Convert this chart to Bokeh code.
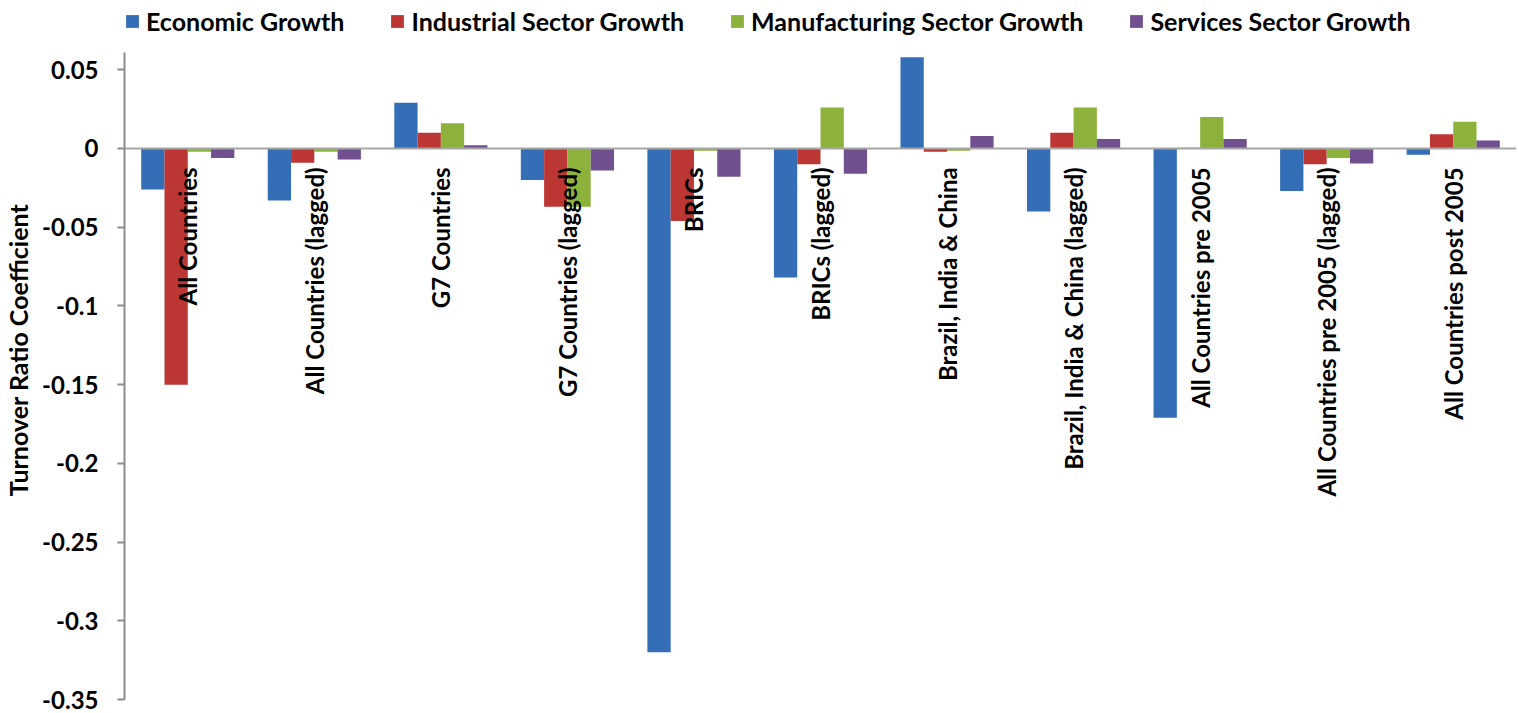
import math
from bokeh.plotting import figure
from bokeh.models import (ColumnDataSource, FactorRange, Range1d, Span, Legend, LegendItem,
                          FixedTicker, NumeralTickFormatter)
from bokeh.transform import dodge
from bokeh.core.properties import value
from bokeh.embed import file_html
from bokeh.resources import INLINE

categories = ["All Countries", "All Countries (lagged)", "G7 Countries", "G7 Countries (lagged)",
              "BRICs", "BRICs (lagged)", "Brazil, India & China", "Brazil, India & China (lagged)",
              "All Countries pre 2005", "All Countries pre 2005 (lagged)", "All Countries post 2005"]
economic = [-0.026, -0.033, 0.029, -0.020, -0.320, -0.082, 0.058, -0.040, -0.171, -0.027, -0.004]
industrial = [-0.150, -0.009, 0.010, -0.037, -0.046, -0.010, -0.002, 0.010, 0.0005, -0.010, 0.009]
manufacturing = [-0.002, -0.002, 0.016, -0.037, -0.0015, 0.026, -0.0015, 0.026, 0.020, -0.006, 0.017]
services = [-0.006, -0.007, 0.002, -0.014, -0.018, -0.016, 0.008, 0.006, 0.006, -0.0095, 0.005]
series_names = ["Economic Growth", "Industrial Sector Growth", "Manufacturing Sector Growth",
                "Services Sector Growth"]
y_ticks = [0.05, 0, -0.05, -0.1, -0.15, -0.2, -0.25, -0.3, -0.35]
y_title = "Turnover Ratio Coefficient"

colors = ["#346EB6", "#BC3634", "#8CB23C", "#71508F"]
FONT = "Lato"

src = ColumnDataSource(dict(cat=categories, econ=economic, ind=industrial,
                            man=manufacturing, srv=services))

# frame spans the full height; the axis line itself is bounded to the data area
p = figure(width=1518, height=713, x_range=FactorRange(*categories),
           y_range=Range1d(-0.35, 0.094), output_backend="svg", toolbar_location=None,
           min_border_left=124, min_border_right=2, min_border_top=0, min_border_bottom=14)

bw = 0.184
offsets = [-1.5 * bw, -0.5 * bw, 0.5 * bw, 1.5 * bw]
renderers = []
for col, off, c in zip(["econ", "ind", "man", "srv"], offsets, colors):
    r = p.vbar(x=dodge("cat", off, range=p.x_range), top=col, bottom=0, width=bw,
               source=src, fill_color=c, line_color=None)
    renderers.append(r)

p.add_layout(Span(location=0, dimension="width", line_color="#A6A6A6", line_width=2))

p.text(x="cat", y=-0.012, text="cat", source=src, angle=math.pi / 2,
       text_align="right", text_baseline="middle", text_font=value(FONT),
       text_font_style="bold", text_font_size="24px", text_color="black")

p.xaxis.visible = False
p.xgrid.visible = False
p.ygrid.visible = False
p.outline_line_color = None

ax = p.yaxis[0]
ax.bounds = (-0.35, 0.0608)
ax.ticker = FixedTicker(ticks=y_ticks)
ax.formatter = NumeralTickFormatter(format="0.[00]")
ax.axis_line_color = "#8C8C8C"
ax.axis_line_width = 2
ax.major_tick_line_color = "#8C8C8C"
ax.major_tick_line_width = 2
ax.major_tick_out = 7
ax.major_tick_in = 0
ax.minor_tick_line_color = None
ax.major_label_text_font = FONT
ax.major_label_text_font_style = "bold"
ax.major_label_text_font_size = "24px"
ax.major_label_text_color = "black"
ax.major_label_standoff = 19
ax.axis_label = y_title
ax.axis_label_text_font = FONT
ax.axis_label_text_font_style = "bold"
ax.axis_label_text_font_size = "25px"
ax.axis_label_text_color = "black"
ax.axis_label_standoff = 6

legend = Legend(items=[LegendItem(label=n, renderers=[r]) for n, r in zip(series_names, renderers)],
                orientation="horizontal", location=(0, 663),
                label_text_font=FONT, label_text_font_style="bold", label_text_font_size="25px",
                label_text_color="black",
                glyph_width=16, glyph_height=16, label_standoff=6, spacing=45,
                padding=0, margin=0, border_line_color=None, background_fill_alpha=0)
p.add_layout(legend, "center")

open("out.html", "w").write(file_html(p, INLINE))
